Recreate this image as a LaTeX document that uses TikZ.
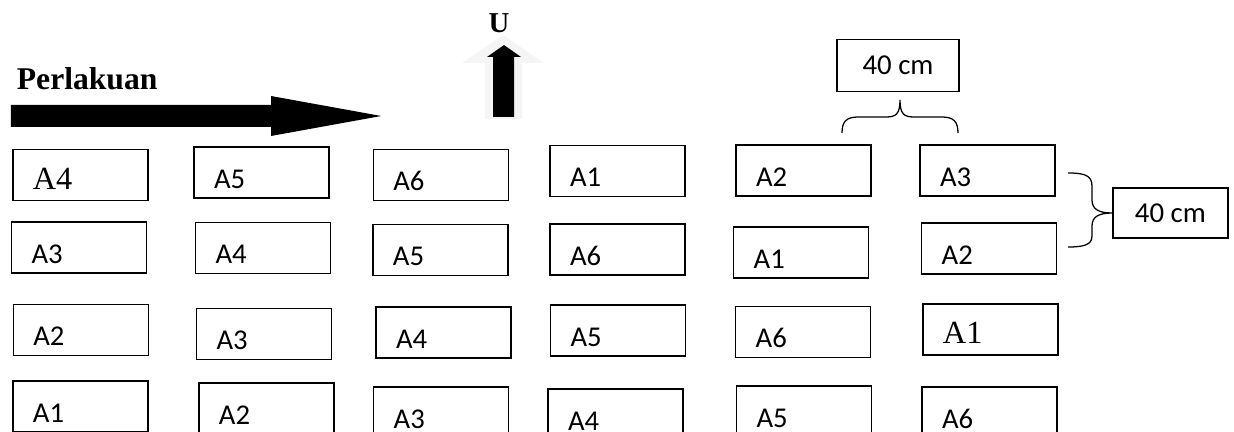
\documentclass[tikz,border=0pt]{standalone}
\usepackage{fontspec}
\setmainfont{Carlito}
\newfontfamily\tnr{Liberation Serif}
\newcommand{\fptk}{\fontsize{20.4}{24}\selectfont}
\newcommand{\fser}{\tnr\fontsize{23}{27}\selectfont}
\newcommand{\fjdl}{\tnr\bfseries\fontsize{22.5}{26}\selectfont}
\newcommand{\fukr}{\fontsize{20.5}{24}\selectfont}

\begin{document}
\begin{tikzpicture}[
      ptk/.style={draw, line width=0.9pt, minimum width=3.375cm, minimum height=1.275cm,
                  text width=2.375cm, inner xsep=0.5cm, inner ysep=0pt, align=left,
                  text height=0.8cm, text depth=0pt, font=\fptk},
      ptks/.style={ptk, text height=0.72cm, font=\fser},
      ukr/.style={draw, line width=0.9pt, minimum height=1.3cm, align=center, font=\fukr},
      kurung/.style={line width=0.9pt},
      lbl/.style={font=\fjdl, inner sep=0pt}
    ]
      \useasboundingbox (0,0) rectangle (30.85,10.8);

      \node[lbl, anchor=base west] (judul) at (0.415,8.55) {Perlakuan};
      \fill (0.275,8.175) -- (6.775,8.175) -- (6.775,8.4) -- (9.53,7.9) -- (6.775,7.4)
            -- (6.775,7.625) -- (0.275,7.625) -- cycle;

      \fill[black!4] (12.12,7.825) -- (12.12,9.225) -- (11.55,9.225) -- (12.58,9.925)
            -- (13.6,9.225) -- (13.05,9.225) -- (13.05,7.825) -- cycle;
      \fill (12.33,7.875) -- (12.33,9.375) -- (12.175,9.375) -- (12.6,9.675)
            -- (13.025,9.375) -- (12.85,9.375) -- (12.85,7.875) -- cycle;
      \node[lbl, anchor=base, font=\tnr\bfseries\fontsize{20.5}{24}\selectfont] (utara) at (12.475,9.975) {U};

      \node[ptks] (p11) at (2.01,6.425) {A4};
      \node[ptk] (p12) at (6.54,6.49) {A5};
      \node[ptk] (p13) at (11.02,6.425) {A6};
      \node[ptk] (p14) at (15.44,6.525) {A1};
      \node[ptk] (p15) at (20.09,6.54) {A2};
      \node[ptk] (p16) at (24.69,6.54) {A3};

      \node[ptk] (p21) at (1.975,4.61) {A3};
      \node[ptk] (p22) at (6.575,4.6) {A4};
      \node[ptk] (p23) at (11.01,4.55) {A5};
      \node[ptk] (p24) at (15.44,4.56) {A6};
      \node[ptk] (p25) at (20.03,4.49) {A1};
      \node[ptk] (p26) at (24.73,4.59) {A2};

      \node[ptk] (p31) at (2.02,2.55) {A2};
      \node[ptk] (p32) at (6.6,2.45) {A3};
      \node[ptk] (p33) at (11.09,2.49) {A4};
      \node[ptk] (p34) at (15.45,2.54) {A5};
      \node[ptk] (p35) at (20.08,2.5) {A6};
      \node[ptks] (p36) at (24.76,2.56) {A1};

      \node[ptk] (p41) at (2.01,0.64) {A1};
      \node[ptk] (p42) at (6.66,0.59) {A2};
      \node[ptk] (p43) at (11.03,0.49) {A3};
      \node[ptk] (p44) at (15.39,0.44) {A4};
      \node[ptk] (p45) at (20.1,0.51) {A5};
      \node[ptk] (p46) at (24.74,0.49) {A6};

      \node[ukr, minimum width=3.05cm] (jarakx) at (22.45,9.16) {40 cm};
      \node[ukr, minimum width=2.875cm, minimum height=1.25cm] (jaraky) at (29.26,5.475) {40 cm};

      \coordinate (ka) at (21.05,7.475);
      \coordinate (kb) at (23.95,7.475);
      \coordinate (kc) at (26.7,6.475);
      \coordinate (kd) at (26.7,4.625);

      \draw[kurung] (ka) .. controls (21.05,7.75) and (21.15,7.875) .. (21.45,7.875)
            -- (22.15,7.875) .. controls (22.4,7.875) and (22.5,7.95) .. (22.5,8.3)
            .. controls (22.5,7.95) and (22.6,7.875) .. (22.85,7.875)
            -- (23.55,7.875) .. controls (23.85,7.875) and (23.95,7.75) .. (kb);
      \draw[kurung] (kc) .. controls (27.1,6.475) and (27.3,6.42) .. (27.3,6.15)
            -- (27.3,5.8) .. controls (27.3,5.58) and (27.45,5.475) .. (jaraky.west)
            .. controls (27.45,5.475) and (27.3,5.37) .. (27.3,5.15)
            -- (27.3,4.9) .. controls (27.3,4.68) and (27.1,4.625) .. (kd);
    \end{tikzpicture}
\end{document}
